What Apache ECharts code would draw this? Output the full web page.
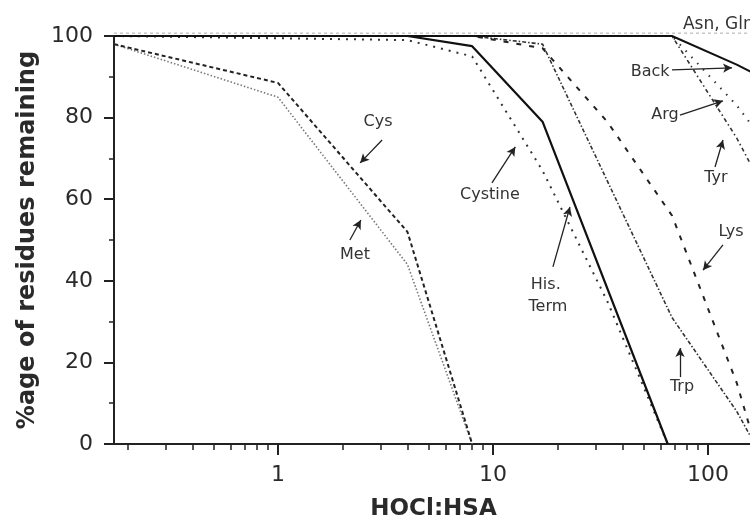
<!DOCTYPE html>
<html>
<head>
<meta charset="utf-8">
<script src="https://cdn.jsdelivr.net/npm/echarts@6.0.0/dist/echarts.min.js"></script>
<style>
  html, body { margin: 0; padding: 0; background: #fff; }
  #chart { width: 750px; height: 519px; }
</style>
</head>
<body>
<div id="chart"></div>
<script>
// %age of residues remaining vs HOCl:HSA (log x axis)

const ratioMin = 0.1727;
const ratioMax = 1000;
const majorTicks = [1, 10, 100];
const minorTicks = [0.2, 0.3, 0.4, 0.5, 0.6, 0.7, 0.8, 0.9,
    2, 3, 4, 5, 6, 7, 8, 9, 20, 30, 40, 50, 60, 70, 80, 90,
    200, 300, 400, 500, 600, 700, 800, 900];

// series
const cysRatio = [0.1727, 1, 4, 8];
const cysPct = [98, 88.5, 52, 0];
const metRatio = [0.1727, 1, 4, 8];
const metPct = [98, 85, 44, 0];
const cystineRatio = [0.1727, 4, 8, 17, 34, 65];
const cystinePct = [100, 99, 95, 67, 35, 0];
const hisRatio = [0.1727, 4, 8, 17, 65];
const hisPct = [100, 100, 97.5, 79, 0];
const trpRatio = [0.1727, 8, 17, 68, 136, 165];
const trpPct = [100, 100, 98, 31, 8, 0];
const lysRatio = [0.1727, 8, 17, 34, 68, 136, 165];
const lysPct = [100, 100, 97, 79, 56, 15, 0];
const backRatio = [0.1727, 68, 136, 272];
const backPct = [100, 100, 93, 85];
const tyrRatio = [0.1727, 68, 136, 272];
const tyrPct = [100, 100, 75, 45];
const argRatio = [0.1727, 68, 136, 272];
const argPct = [100, 100, 83, 62];
const asnRatio = [0.1727, 272];
const asnPct = [100.7, 100.7];

// annotations (data coordinates)
const labelText = ['Cys', 'Met', 'Cystine', 'His.', 'Term', 'Trp', 'Lys', 'Tyr', 'Arg', 'Back'];
const labelAt = [[2.92, 78.9], [2.28, 46.3], [9.68, 61], [17.6, 39], [18, 33.6],
    [75.7, 14], [128, 52], [108.9, 65.2], [63.1, 80.6], [53.8, 91.2]];
const asnText = 'Asn, Gln';
const asnAt = [76.5, 102.9];
const arrowFrom = [[3.05, 74.5], [2.16, 50], [9.89, 64], [19, 43.4], [74.1, 16.4],
    [117.4, 48.8], [107.8, 67.9], [74.1, 80.6], [68, 91.7]];
const arrowTo = [[2.41, 68.9], [2.43, 54.9], [12.7, 72.8], [22.8, 58.1], [74.1, 23.5],
    [94.8, 42.6], [117.4, 74.5], [117.4, 84.1], [129.4, 92.2]];

function pairs(xs, ys) {
    return xs.map((x, i) => [x, ys[i]]);
}

function lineSeries(name, xs, ys, color, width, dash) {
    return {
        name: name,
        type: 'line',
        data: pairs(xs, ys),
        showSymbol: false,
        silent: true,
        lineStyle: { color: color, width: width, type: dash }
    };
}

const chart = echarts.init(document.getElementById('chart'), null, { renderer: 'canvas' });

const fontName = 'DejaVu Sans, Verdana, sans-serif';
const tickFont = { fontFamily: fontName, fontSize: 22, color: '#2a2a2a' };

const option = {
    animation: false,
    backgroundColor: '#fff',
    // the plot runs past the right edge of the picture, as in the cropped original
    grid: { left: 114, top: 36, width: 809, bottom: 75, outerBoundsMode: 'none', containLabel: false },
    xAxis: [
        {
            type: 'log',
            logBase: 10,
            min: ratioMin,
            max: ratioMax,
            position: 'bottom',
            name: 'HOCl:HSA',
            nameLocation: 'middle',
            nameGap: 54,
            nameTextStyle: {
                fontFamily: fontName,
                fontSize: 23, fontWeight: 'bold', color: '#2a2a2a',
                padding: [0, 170, 0, 0]
            },
            axisLine: { lineStyle: { color: '#222', width: 2 } },
            axisTick: { customValues: majorTicks, length: 11, lineStyle: { color: '#222', width: 2 } },
            axisLabel: Object.assign({ customValues: majorTicks, margin: 20 }, tickFont),
            splitLine: { show: false },
            minorTick: { show: false }
        },
        {
            type: 'log',
            logBase: 10,
            min: ratioMin,
            max: ratioMax,
            position: 'bottom',
            axisLine: { show: false },
            axisTick: { customValues: minorTicks, length: 6, lineStyle: { color: '#222', width: 1.5 } },
            axisLabel: { show: false },
            splitLine: { show: false }
        }
    ],
    yAxis: {
        type: 'value',
        min: 0,
        max: 100,
        interval: 20,
        name: '%age of residues remaining',
        nameLocation: 'middle',
        nameGap: 74,
        nameTextStyle: {
            fontFamily: fontName,
            fontSize: 24, fontWeight: 'bold', color: '#2a2a2a'
        },
        axisLine: { show: true, lineStyle: { color: '#222', width: 2 } },
        axisTick: { show: true, length: 10, lineStyle: { color: '#222', width: 2 } },
        minorTick: { show: true, splitNumber: 2, length: 5, lineStyle: { color: '#222', width: 1.5 } },
        axisLabel: Object.assign({ margin: 21 }, tickFont),
        splitLine: { show: false }
    },
    series: [
        Object.assign(lineSeries('Asn, Gln', asnRatio, asnPct, '#aaa', 1, [3, 3]), { clip: false }),
        lineSeries('Met', metRatio, metPct, '#777', 1.6, [1.5, 2]),
        lineSeries('Cys', cysRatio, cysPct, '#222', 2, [4, 3]),
        lineSeries('Cystine', cystineRatio, cystinePct, '#333', 2, [2, 6]),
        lineSeries('Trp', trpRatio, trpPct, '#333', 1.6, [4, 2, 1.5, 2]),
        lineSeries('Lys', lysRatio, lysPct, '#222', 2, [5, 8]),
        lineSeries('Arg', argRatio, argPct, '#333', 2, [1.5, 7]),
        lineSeries('Tyr', tyrRatio, tyrPct, '#333', 1.6, [4, 3, 1.5, 3]),
        lineSeries('Back', backRatio, backPct, '#111', 2, 'solid'),
        lineSeries('His', hisRatio, hisPct, '#111', 2.2, 'solid'),
        {
            name: 'arrows',
            type: 'line',
            data: [],
            silent: true,
            markLine: {
                silent: true,
                symbol: ['none', 'arrow'],
                symbolSize: [7, 9],
                label: { show: false },
                lineStyle: { color: '#222', width: 1.3, type: 'solid' },
                data: arrowFrom.map((p, i) => [{ coord: p }, { coord: arrowTo[i] }])
            }
        }
    ]
};

chart.setOption(option);

// annotation texts placed from data coordinates
const labelFont = '16px "DejaVu Sans", Verdana, sans-serif';
const texts = labelText.map((t, i) => {
    const p = chart.convertToPixel({ xAxisIndex: 0, yAxisIndex: 0 }, labelAt[i]);
    return {
        type: 'text', x: p[0], y: p[1], silent: true,
        style: { text: t, font: labelFont, fill: '#333', align: 'center', verticalAlign: 'middle' }
    };
});
const asnPos = chart.convertToPixel({ xAxisIndex: 0, yAxisIndex: 0 }, asnAt);
texts.push({
    type: 'text', x: asnPos[0], y: asnPos[1], silent: true,
    style: { text: asnText, font: '17px "DejaVu Sans", Verdana, sans-serif', fill: '#333', align: 'left', verticalAlign: 'middle' }
});
chart.setOption({ graphic: texts });
</script>
</body>
</html>
